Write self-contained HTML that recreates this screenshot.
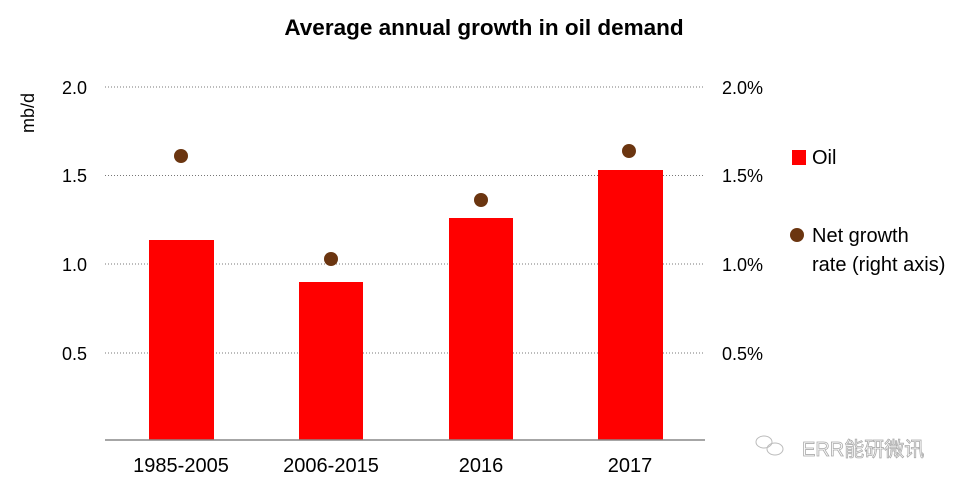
<!DOCTYPE html>
<html><head><meta charset="utf-8"><style>
body{margin:0;background:#fff;}
svg{display:block;}
text{font-family:"Liberation Sans","Noto Sans CJK SC",sans-serif;}
</style></head><body>
<svg width="973" height="490" viewBox="0 0 973 490">
<text x="484" y="35" text-anchor="middle" font-size="22.5" font-weight="bold" fill="#000">Average annual growth in oil demand</text>
<g stroke="#777" stroke-width="1" stroke-dasharray="1,2">
<line x1="105" y1="87" x2="705" y2="87"/>
<line x1="105" y1="175.5" x2="705" y2="175.5"/>
<line x1="105" y1="264" x2="705" y2="264"/>
<line x1="105" y1="353" x2="705" y2="353"/>
</g>
<g font-size="18" fill="#000" text-anchor="end">
<text x="87" y="94">2.0</text><text x="87" y="182">1.5</text><text x="87" y="271">1.0</text><text x="87" y="360">0.5</text>
</g>
<g font-size="18" fill="#000">
<text x="722" y="94">2.0%</text><text x="722" y="182">1.5%</text><text x="722" y="271">1.0%</text><text x="722" y="360">0.5%</text>
</g>
<text transform="translate(34,113) rotate(-90)" text-anchor="middle" font-size="18" fill="#000">mb/d</text>
<g fill="#ff0000">
<rect x="149" y="240" width="65" height="200"/>
<rect x="299" y="282" width="64" height="158"/>
<rect x="449" y="218" width="64" height="222"/>
<rect x="598" y="170" width="65" height="270"/>
</g>
<line x1="105" y1="440" x2="705" y2="440" stroke="#888" stroke-width="1.5"/>
<g fill="#6b3510">
<circle cx="181" cy="156" r="7"/><circle cx="331" cy="259" r="7"/><circle cx="481" cy="200" r="7"/><circle cx="629" cy="151" r="7"/>
</g>
<g font-size="20" fill="#000" text-anchor="middle">
<text x="181" y="472">1985-2005</text><text x="331" y="472">2006-2015</text><text x="481" y="472">2016</text><text x="630" y="472">2017</text>
</g>
<rect x="792" y="150" width="14" height="15" fill="#ff0000"/>
<text x="812" y="164" font-size="20" fill="#000">Oil</text>
<circle cx="797" cy="235" r="7" fill="#6b3510"/>
<text x="812" y="242" font-size="20" fill="#000">Net growth</text>
<text x="812" y="271" font-size="20" fill="#000">rate (right axis)</text>
<g fill="none" stroke="#bbb" stroke-width="1">
<ellipse cx="764" cy="442" rx="8" ry="6"/><ellipse cx="775" cy="449" rx="8" ry="6"/>
</g>
<text x="802" y="456" font-size="20" fill="#fff" stroke="#aaa" stroke-width="0.8">ERR能研微讯</text>
</svg>
</body></html>
